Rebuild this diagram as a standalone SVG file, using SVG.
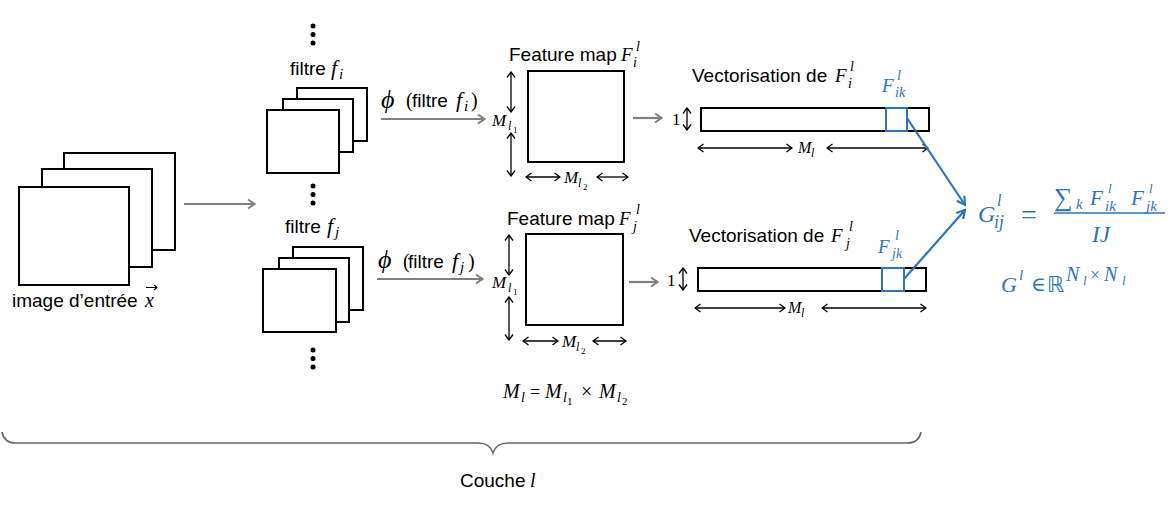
<svg xmlns="http://www.w3.org/2000/svg" width="1175" height="515" viewBox="0 0 1175 515">
<style>
.box{fill:#fff;stroke:#000;stroke-width:2}
.ga{stroke:#7f7f7f;stroke-width:2.2;fill:none;marker-end:url(#mg)}
.da{stroke:#000;stroke-width:1.3;fill:none;marker-start:url(#mb);marker-end:url(#mb)}
.bl{stroke:#2E75B6;stroke-width:2.2;fill:none;marker-end:url(#mbl)}
.s{font-family:"Liberation Sans",Arial,sans-serif;font-size:19px;fill:#000}
.m{font-family:"Liberation Serif","DejaVu Serif",serif;font-style:italic;fill:#000}
.n{font-family:"Liberation Serif","DejaVu Serif",serif;fill:#000}
.b{fill:#2E75B6}
</style>
<defs>
<marker id="mg" viewBox="0 0 10 12" refX="9" refY="6" markerWidth="10" markerHeight="12" markerUnits="userSpaceOnUse" orient="auto"><path d="M2,1.5 L8.5,6 L2,10.5" fill="none" stroke="#7f7f7f" stroke-width="2"/></marker>
<marker id="mb" viewBox="0 0 8 10" refX="7" refY="5" markerWidth="8" markerHeight="10" markerUnits="userSpaceOnUse" orient="auto-start-reverse"><path d="M1.5,1 L7,5 L1.5,9" fill="none" stroke="#000" stroke-width="1.3"/></marker>
<marker id="mbl" viewBox="0 0 12 12" refX="10" refY="6" markerWidth="12" markerHeight="12" markerUnits="userSpaceOnUse" orient="auto"><path d="M2,1.5 L10,6 L2,10.5" fill="none" stroke="#2E75B6" stroke-width="2.2"/></marker>
</defs>

<g id="image-entree">
<rect class="box" x="64" y="153" width="111" height="97"/>
<rect class="box" x="42" y="169" width="110" height="98"/>
<rect class="box" x="19" y="187" width="110" height="98"/>
<text x="12" y="307" class="s">image d’entrée</text>
<text x="145" y="307" class="m" font-size="20">x</text>
<path d="M146,287.5 H157 M154,285 L157,287.5 L154,290" fill="none" stroke="#000" stroke-width="1.1"/>
</g>

<g id="filtre-i">
<circle cx="313" cy="26" r="2.5"/><circle cx="313" cy="34.5" r="2.5"/><circle cx="313" cy="43" r="2.5"/>
<rect class="box" x="297" y="88" width="70" height="53"/>
<rect class="box" x="283" y="99" width="70" height="53"/>
<rect class="box" x="267" y="110" width="72" height="63"/>
<circle cx="313" cy="186" r="2.5"/><circle cx="313" cy="194.5" r="2.5"/><circle cx="313" cy="203" r="2.5"/>
<text x="290" y="75" class="s">filtre</text>
<text x="331" y="75" class="m" font-size="22">f</text>
<text x="339" y="79" class="m" font-size="15">i</text>
</g>

<g id="filtre-j">
<rect class="box" x="293" y="247" width="70" height="63"/>
<rect class="box" x="279" y="258" width="70" height="64"/>
<rect class="box" x="263" y="269" width="73" height="63"/>
<circle cx="313" cy="350" r="2.5"/><circle cx="313" cy="358.5" r="2.5"/><circle cx="313" cy="367" r="2.5"/>
<text x="285" y="233" class="s">filtre</text>
<text x="327" y="233" class="m" font-size="22">f</text>
<text x="335" y="237" class="m" font-size="15">j</text>
</g>

<g id="feature-map-i">
<rect class="box" x="528" y="71" width="96" height="91"/>
<text x="509" y="61" class="s">Feature map</text>
<text x="621" y="61" class="m" font-size="19">F</text>
<text x="636" y="51" class="m" font-size="14">l</text>
<text x="633" y="67" class="m" font-size="14">i</text>
<text x="492" y="126" class="m" font-size="17">M</text>
<text x="508" y="130" class="m" font-size="12">l</text>
<text x="513" y="133" class="n" font-size="9">1</text>
<text x="564" y="183" class="m" font-size="17">M</text>
<text x="578" y="187" class="m" font-size="12">l</text>
<text x="583" y="190" class="n" font-size="9">2</text>
</g>

<g id="feature-map-j">
<rect class="box" x="526" y="234" width="97" height="91"/>
<text x="507" y="225" class="s">Feature map</text>
<text x="619" y="225" class="m" font-size="19">F</text>
<text x="636" y="214" class="m" font-size="14">l</text>
<text x="633" y="231" class="m" font-size="14">j</text>
<text x="492" y="288" class="m" font-size="17">M</text>
<text x="508" y="292" class="m" font-size="12">l</text>
<text x="513" y="295" class="n" font-size="9">1</text>
<text x="562" y="347" class="m" font-size="17">M</text>
<text x="576" y="351" class="m" font-size="12">l</text>
<text x="581" y="354" class="n" font-size="9">2</text>
<text x="503" y="398" class="m" font-size="20">M</text>
<text x="521" y="402" class="m" font-size="14">l</text>
<text x="530" y="398" class="n" font-size="18">=</text>
<text x="545" y="398" class="m" font-size="20">M</text>
<text x="563" y="402" class="m" font-size="14">l</text>
<text x="567" y="405" class="n" font-size="11">1</text>
<text x="581" y="398" class="n" font-size="20">×</text>
<text x="599" y="398" class="m" font-size="20">M</text>
<text x="617" y="402" class="m" font-size="14">l</text>
<text x="622" y="405" class="n" font-size="11">2</text>
</g>

<g id="vector-i">
<rect class="box" x="701" y="108" width="228" height="23"/>
<rect x="886" y="108" width="21" height="23" fill="none" stroke="#2E75B6" stroke-width="2"/>
<text x="692" y="82" class="s">Vectorisation de</text>
<text x="835" y="82" class="m" font-size="19">F</text>
<text x="850" y="71" class="m" font-size="14">l</text>
<text x="848" y="88" class="m" font-size="14">i</text>
<text x="882" y="92" class="m b" font-size="19">F</text>
<text x="897" y="80" class="m b" font-size="14">l</text>
<text x="895" y="97" class="m b" font-size="14">ik</text>
<text x="672" y="125" class="n" font-size="17">1</text>
<text x="798" y="153" class="m" font-size="16">M</text>
<text x="811" y="157" class="m" font-size="12">l</text>
</g>

<g id="vector-j">
<rect class="box" x="698" y="268" width="228" height="23"/>
<rect x="882" y="268" width="22" height="23" fill="none" stroke="#2E75B6" stroke-width="2"/>
<text x="689" y="242" class="s">Vectorisation de</text>
<text x="831" y="242" class="m" font-size="19">F</text>
<text x="849" y="231" class="m" font-size="14">l</text>
<text x="846" y="248" class="m" font-size="14">j</text>
<text x="878" y="253" class="m b" font-size="19">F</text>
<text x="895" y="240" class="m b" font-size="14">l</text>
<text x="892" y="258" class="m b" font-size="14">jk</text>
<text x="667" y="286" class="n" font-size="17">1</text>
<text x="788" y="313" class="m" font-size="16">M</text>
<text x="801" y="317" class="m" font-size="12">l</text>
</g>

<g id="gram">
<text x="978" y="222" class="m b" font-size="24">G</text>
<text x="997" y="206" class="m b" font-size="16">l</text>
<text x="994" y="228" class="m b" font-size="18">ij</text>
<text x="1021" y="224" class="n b" font-size="28">=</text>
<text x="1054" y="206" class="n b" font-size="26">∑</text>
<text x="1076" y="209" class="m b" font-size="15">k</text>
<text x="1090" y="205" class="m b" font-size="21">F</text>
<text x="1108" y="193" class="m b" font-size="13">l</text>
<text x="1105" y="211" class="m b" font-size="15">ik</text>
<text x="1131" y="205" class="m b" font-size="21">F</text>
<text x="1149" y="193" class="m b" font-size="13">l</text>
<text x="1146" y="211" class="m b" font-size="15">jk</text>
<line x1="1054" y1="213" x2="1165" y2="213" stroke="#2E75B6" stroke-width="1.6"/>
<text x="1092" y="242" class="m b" font-size="23">IJ</text>
<text x="1001" y="292" class="m b" font-size="22">G</text>
<text x="1019" y="280" class="m b" font-size="15">l</text>
<text x="1031" y="291" class="n b" font-size="20">∈</text>
<text x="1047" y="292" font-family="DejaVu Sans,sans-serif" font-size="22" class="b">ℝ</text>
<text x="1066" y="281" class="m b" font-size="20">N</text>
<text x="1083" y="285" class="m b" font-size="13">l</text>
<text x="1090" y="281" class="n b" font-size="18">×</text>
<text x="1104" y="281" class="m b" font-size="20">N</text>
<text x="1122" y="285" class="m b" font-size="13">l</text>
</g>

<g id="phi-labels">
<text x="381" y="108" class="m" font-size="26">ϕ</text>
<text x="406" y="107" class="n" font-size="20">(</text>
<text x="412" y="107" class="s">filtre</text>
<text x="456" y="107" class="m" font-size="22">f</text>
<text x="464" y="111" class="m" font-size="15">i</text>
<text x="471" y="107" class="n" font-size="20">)</text>
<text x="378" y="268" class="m" font-size="26">ϕ</text>
<text x="403" y="268" class="n" font-size="20">(</text>
<text x="408" y="268" class="s">filtre</text>
<text x="452" y="268" class="m" font-size="22">f</text>
<text x="460" y="272" class="m" font-size="15">j</text>
<text x="468" y="268" class="n" font-size="20">)</text>
</g>

<g id="couche">
<path d="M2,432 Q4,443 16,443 L478,443 Q490,443 493,453 Q496,443 508,443 L907,443 Q919,443 921,432" fill="none" stroke="#666" stroke-width="1.6"/>
<text x="460" y="487" class="s">Couche</text>
<text x="530" y="487" class="m" font-size="20">l</text>
</g>

<g id="connectors">
<line class="ga" x1="184" y1="204" x2="255" y2="204"/>
<line class="ga" x1="381" y1="119" x2="485" y2="119"/>
<line class="ga" x1="377" y1="279" x2="483" y2="279"/>
<line class="ga" x1="633" y1="118" x2="662" y2="118"/>
<line class="ga" x1="629" y1="282" x2="658" y2="282"/>
<path class="da" d="M511,112 L511,72"/><path class="da" d="M511,133 L511,176"/>
<path class="da" d="M560,177 L526,177"/><path class="da" d="M597,177 L628,177"/>
<path class="da" d="M509,275 L509,235"/><path class="da" d="M509,297 L509,340"/>
<path class="da" d="M558,341 L523,341"/><path class="da" d="M593,341 L626,341"/>
<line class="da" x1="687" y1="108" x2="687" y2="130"/>
<line class="da" x1="683" y1="268" x2="683" y2="290"/>
<path class="da" d="M792,148 L698,148"/><path class="da" d="M827,148 L928,148"/>
<path class="da" d="M785,308 L695,308"/><path class="da" d="M822,308 L926,308"/>
<line class="bl" x1="907" y1="118" x2="965" y2="205"/>
<line class="bl" x1="904" y1="279" x2="965" y2="210"/>
</g>
</svg>
